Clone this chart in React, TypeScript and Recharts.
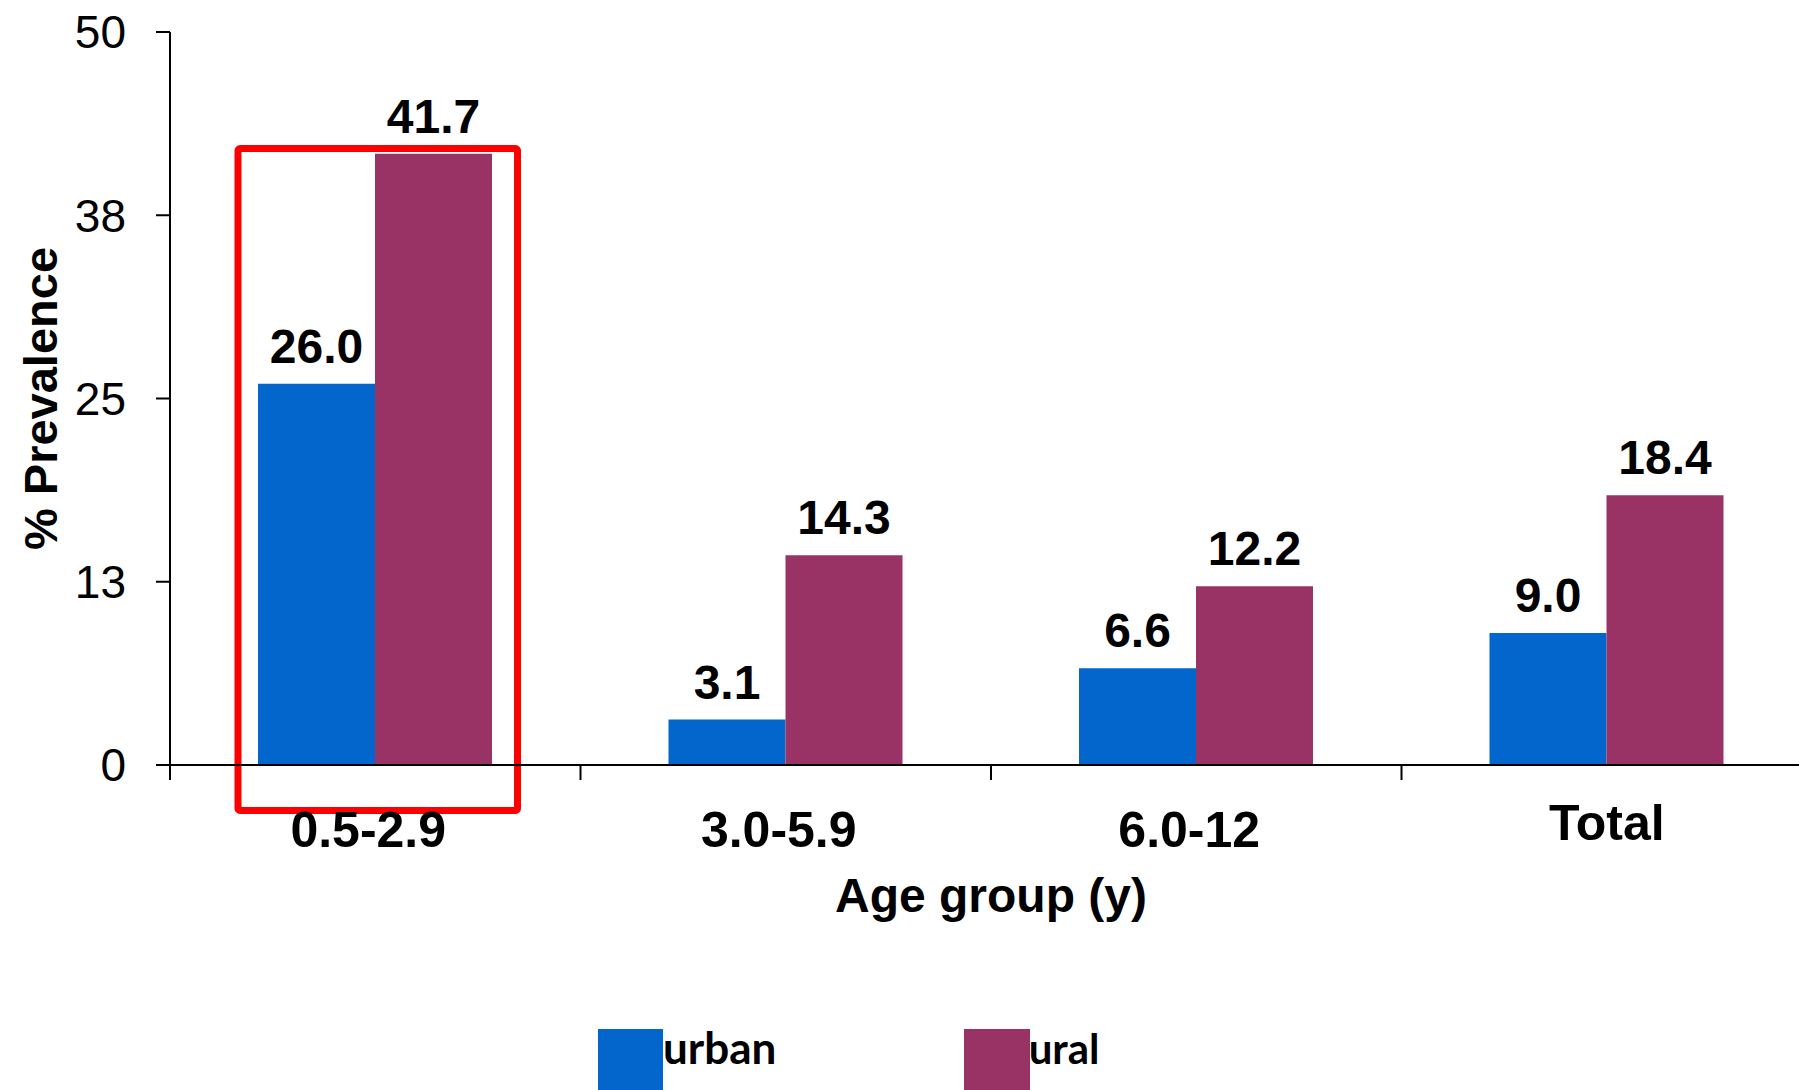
import React from 'react';
import { BarChart, Bar, XAxis, YAxis, LabelList, ReferenceArea } from 'recharts';

// Age groups and prevalence (%) per setting
const CATEGORIES = ['0.5-2.9', '3.0-5.9', '6.0-12', 'Total'];
const URBAN = [26.0, 3.1, 6.6, 9.0];
const RURAL = [41.7, 14.3, 12.2, 18.4];
const Y_TICKS = [0, 12.5, 25, 37.5, 50];
const SERIES_NAMES = ['urban', 'rural'];
const SERIES_COLORS = ['#0366CC', '#993366'];

// highlight box around the youngest age group (value range, in % units)
const HIGHLIGHT_TOP = 42.05;
const HIGHLIGHT_BOTTOM = -3.1;

const data = CATEGORIES.map((name, i) => ({ name, urban: URBAN[i], rural: RURAL[i] }));

const FONT = '"Liberation Sans", Arial, sans-serif';
const CHART_W = 1830;
const CHART_H = 1090;
const MARGIN = { top: 32, right: 18, left: 0, bottom: 211 };
const Y_AXIS_W = 170;
const X_AXIS_H = 114;
const BAND = (CHART_W - MARGIN.left - MARGIN.right - Y_AXIS_W) / CATEGORIES.length;

// category label plus a tick mark on the left edge of each band
const CategoryTick = (props: any) => {
  const { x, y, payload } = props;
  const edge = x - BAND / 2;
  const isTotal = payload.value === 'Total';
  return (
    <g>
      <line x1={edge} y1={y} x2={edge} y2={y + 15} stroke="#000" strokeWidth={2} />
      <text
        x={isTotal ? x : x - 7}
        y={isTotal ? y + 75 : y + 82}
        textAnchor="middle"
        fontFamily={FONT}
        fontSize={50}
        fontWeight={700}
        fill="#000"
      >
        {payload.value}
      </text>
    </g>
  );
};

const HighlightBox = (props: any) => {
  const { x, y, width, height } = props;
  return (
    <rect
      x={x + 68}
      y={y}
      width={width - 131}
      height={height}
      fill="none"
      stroke="#FF0000"
      strokeWidth={7}
      rx={2}
    />
  );
};

const valueLabel = (key: string) => (
  <LabelList
    dataKey={key}
    position="top"
    offset={21}
    formatter={(v: any) => Number(v).toFixed(1)}
    fontFamily={FONT}
    fontSize={48}
    fontWeight={700}
    fill="#000"
  />
);

const App = () => {
  return (
    <div style={{ position: 'absolute', left: 0, top: 0, width: 1799, height: 1090, overflow: 'hidden', background: '#fff' }}>
      <BarChart width={CHART_W} height={CHART_H} data={data} margin={MARGIN} barGap={0} barSize={117}>
        <XAxis
          dataKey="name"
          height={X_AXIS_H}
          axisLine={{ stroke: '#000', strokeWidth: 2 }}
          tickLine={false}
          tickSize={0}
          tickMargin={0}
          interval={0}
          tick={<CategoryTick />}
          label={({ viewBox }: any) => (
            <text
              x={viewBox.x + viewBox.width / 2}
              y={viewBox.y + 147}
              textAnchor="middle"
              fontFamily={FONT}
              fontSize={48}
              fontWeight={700}
              fill="#000"
            >
              Age group (y)
            </text>
          )}
        />
        <YAxis
          width={Y_AXIS_W}
          domain={[0, 50]}
          ticks={Y_TICKS}
          interval={0}
          tickFormatter={(v: number) => String(Math.round(v))}
          axisLine={{ stroke: '#000', strokeWidth: 2 }}
          tickLine={{ stroke: '#000', strokeWidth: 2 }}
          tickSize={14}
          tickMargin={30}
          tick={{ fontFamily: FONT, fontSize: 46, fill: '#000' }}
          label={({ viewBox }: any) => {
            const cx = viewBox.x + 57;
            const cy = viewBox.y + viewBox.height / 2;
            return (
              <text
                x={cx}
                y={cy}
                transform={`rotate(-90, ${cx}, ${cy})`}
                textAnchor="middle"
                fontFamily={FONT}
                fontSize={47}
                fontWeight={700}
                fill="#000"
              >
                % Prevalence
              </text>
            );
          }}
        />
        <Bar dataKey="urban" name={SERIES_NAMES[0]} fill={SERIES_COLORS[0]} isAnimationActive={false}>
          {valueLabel('urban')}
        </Bar>
        <Bar dataKey="rural" name={SERIES_NAMES[1]} fill={SERIES_COLORS[1]} isAnimationActive={false}>
          {valueLabel('rural')}
        </Bar>
        <ReferenceArea
          x1={CATEGORIES[0]}
          x2={CATEGORIES[0]}
          y1={HIGHLIGHT_BOTTOM}
          y2={HIGHLIGHT_TOP}
          ifOverflow="visible"
          shape={<HighlightBox />}
        />
      </BarChart>

      {/* legend: colour squares drawn over the start of each name */}
      <svg width={1799} height={1090} style={{ position: 'absolute', left: 0, top: 0, pointerEvents: 'none' }}>
        <text x={663} y={1064} fontFamily="Lato, sans-serif" fontSize={44} fontWeight={700} fill="#000">
          {SERIES_NAMES[0]}
        </text>
        <rect x={598} y={1029} width={65} height={65} fill={SERIES_COLORS[0]} />
        <text x={1013} y={1064} fontFamily="Lato, sans-serif" fontSize={42} fontWeight={700} fill="#000">
          {SERIES_NAMES[1]}
        </text>
        <rect x={964} y={1029} width={66} height={65} fill={SERIES_COLORS[1]} />
      </svg>
    </div>
  );
};

export default App;
